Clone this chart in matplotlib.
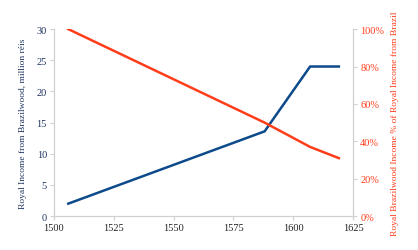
import matplotlib.pyplot as plt
from matplotlib.ticker import PercentFormatter

plt.rcParams['font.family'] = ['Liberation Serif', 'DejaVu Serif']

# data
years = [1506, 1588, 1607, 1619]
income = [2.0, 13.6, 24.0, 24.0]          # million réis
share = [100, 50, 37, 31]                 # % of royal income from Brazil

blue = '#0d4a8a'
red = '#ff3d1a'
grey = '#d0d0d0'
navy = '#1f3560'

fig = plt.figure(figsize=(4.18, 2.51), dpi=100)
ax = fig.add_axes([0.129, 0.135, 0.716, 0.745])
ax2 = ax.twinx()

ax.plot(years, income, color=blue, lw=1.8)
ax2.plot(years, share, color=red, lw=1.8)

ax.set_xlim(1500, 1625)
ax.set_ylim(0, 30)
ax2.set_ylim(0, 100)
ax.set_xticks(range(1500, 1626, 25))
ax.set_yticks(range(0, 31, 5))
ax2.set_yticks(range(0, 101, 20))
ax2.yaxis.set_major_formatter(PercentFormatter(decimals=0))

for a in (ax, ax2):
    a.spines['top'].set_visible(False)
    for s in ('left', 'right', 'bottom'):
        a.spines[s].set_color(grey)
    a.tick_params(length=3, color=grey, labelsize=7.5, pad=2)

ax.tick_params(axis='y', labelcolor=navy)
ax.tick_params(axis='x', labelcolor='#222222')
ax2.tick_params(axis='y', labelcolor=red)

ax.set_ylabel('Royal Income from Brazilwood, million réis', color=navy, fontsize=6.8, labelpad=7)
ax2.set_ylabel('Royal Brazilwood Income % of Royal Income from Brazil', color=red, fontsize=6.8, labelpad=5)

fig.savefig('out.png', dpi=100)
